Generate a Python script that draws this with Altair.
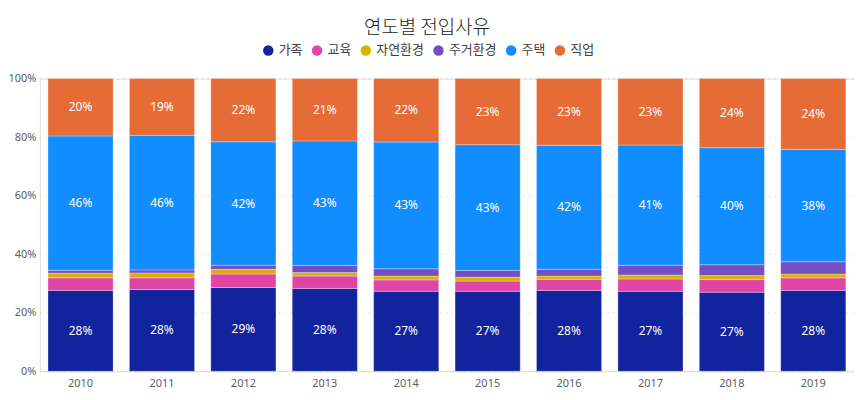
import altair as alt
import pandas as pd

years = ["2010", "2011", "2012", "2013", "2014", "2015", "2016", "2017", "2018", "2019"]
categories = ["가족", "교육", "자연환경", "주거환경", "주택", "직업"]
colors = ["#12239E", "#E044A7", "#D9B300", "#744EC2", "#118DFF", "#E66C37"]

family = [27.6, 27.9, 28.6, 28.3, 27.3, 27.3, 27.6, 27.3, 27.0, 27.6]
education = [4.3, 4.0, 4.6, 4.2, 3.9, 3.5, 3.8, 4.2, 4.3, 4.3]
nature = [1.6, 1.7, 1.6, 1.2, 1.3, 1.3, 1.1, 1.4, 1.4, 1.3]
living = [1.0, 1.0, 1.4, 2.4, 2.5, 2.3, 2.3, 3.3, 3.7, 4.2]
housing = [45.9, 46.0, 42.2, 42.6, 43.3, 43.0, 42.4, 41.1, 40.0, 38.4]
job = [19.6, 19.4, 21.6, 21.3, 21.7, 22.6, 22.8, 22.7, 23.6, 24.2]

series = [family, education, nature, living, housing, job]

rows = []
for ci, (cat, vals) in enumerate(zip(categories, series)):
    for yr, v in zip(years, vals):
        rows.append({"year": yr, "category": cat, "idx": ci, "value": v})
df = pd.DataFrame(rows)

base = alt.Chart(df).transform_stack(
    stack="value",
    groupby=["year"],
    as_=["y0", "y1"],
    sort=[alt.SortField("idx", order="ascending")],
    offset="normalize",
).transform_calculate(
    mid="(datum.y0 + datum.y1) / 2",
    pct="datum.value / 100",
)

x_enc = alt.X(
    "year:N",
    sort=years,
    scale=alt.Scale(paddingInner=0.2, paddingOuter=0.1),
    axis=alt.Axis(title=None, labelAngle=0, domain=False, ticks=False, labelPadding=6,
                  labelFont="Noto Sans", labelFontSize=11, labelColor="#605E5C"),
)

bars = base.mark_bar(stroke="white", strokeWidth=0.6, strokeOpacity=0.5).encode(
    x=x_enc,
    y=alt.Y(
        "y0:Q",
        scale=alt.Scale(domain=[0, 1], nice=False),
        axis=alt.Axis(title=None, format=".0%", values=[0, 0.2, 0.4, 0.6, 0.8, 1.0],
                      domain=False, ticks=False, gridDash=[1, 5], gridColor="#C8C6C4",
                      labelPadding=4, labelFont="Noto Sans", labelFontSize=11,
                      labelColor="#605E5C"),
    ),
    y2="y1:Q",
    color=alt.Color(
        "category:N",
        scale=alt.Scale(domain=categories, range=colors),
        legend=alt.Legend(
            title=None, orient="none", legendX=223, legendY=-35, direction="horizontal",
            columns=6, symbolType="circle", symbolSize=110, symbolStrokeWidth=0,
            symbolOpacity=1, labelFont="Noto Sans CJK KR", labelFontSize=13,
            labelColor="#404040", labelOffset=4, columnPadding=8,
        ),
    ),
)

labels = base.transform_filter("datum.value >= 10").mark_text(
    color="white", fontSize=12, font="Noto Sans"
).encode(
    x=alt.X("year:N", sort=years),
    y=alt.Y("mid:Q"),
    text=alt.Text("pct:Q", format=".0%"),
)

chart = alt.layer(bars, labels).properties(
    width=818,
    height=294,
    autosize=alt.AutoSizeParams(type="none"),
    padding={"left": 32, "top": 70, "right": 0, "bottom": 22},
    title=alt.TitleParams(
        "연도별 전입사유", font="Noto Sans CJK KR", fontSize=19, fontWeight=300,
        color="#252423", anchor="middle", dx=-20, offset=6,
    ),
).configure_view(stroke=None).configure(background="white")

chart.save("out.html", embed_options={"renderer": "svg", "actions": False})
